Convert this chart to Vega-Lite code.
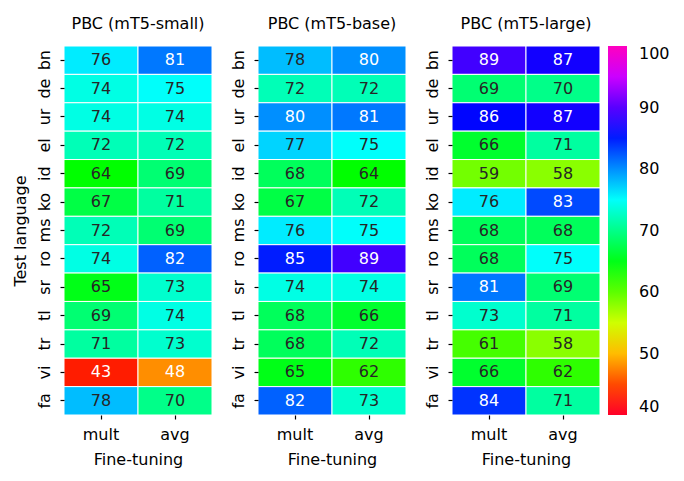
{
  "$schema": "https://vega.github.io/schema/vega-lite/v6.json",
  "padding": {"left": 11, "top": 15, "right": 5, "bottom": 5},
  "config": {
    "font": "DejaVu Sans",
    "view": {"stroke": null},
    "concat": {"spacing": 16},
    "axis": {"labelFontSize": 16, "titleFontSize": 16, "titleFontWeight": "normal", "labelColor": "black", "titleColor": "black", "tickColor": "black", "domain": false, "grid": false, "tickSize": 4, "tickWidth": 1.2, "labelFont": "DejaVu Sans", "titleFont": "DejaVu Sans"},
    "title": {"fontSize": 16, "fontWeight": "normal", "offset": 14, "font": "DejaVu Sans", "color": "black"},
    "legend": {"labelFont": "DejaVu Sans", "labelColor": "black"}
  },
  "data": {"values": [
    {"model": "small", "lang": "bn", "ft": "mult", "value": 76}, {"model": "small", "lang": "bn", "ft": "avg", "value": 81},
    {"model": "small", "lang": "de", "ft": "mult", "value": 74}, {"model": "small", "lang": "de", "ft": "avg", "value": 75},
    {"model": "small", "lang": "ur", "ft": "mult", "value": 74}, {"model": "small", "lang": "ur", "ft": "avg", "value": 74},
    {"model": "small", "lang": "el", "ft": "mult", "value": 72}, {"model": "small", "lang": "el", "ft": "avg", "value": 72},
    {"model": "small", "lang": "id", "ft": "mult", "value": 64}, {"model": "small", "lang": "id", "ft": "avg", "value": 69},
    {"model": "small", "lang": "ko", "ft": "mult", "value": 67}, {"model": "small", "lang": "ko", "ft": "avg", "value": 71},
    {"model": "small", "lang": "ms", "ft": "mult", "value": 72}, {"model": "small", "lang": "ms", "ft": "avg", "value": 69},
    {"model": "small", "lang": "ro", "ft": "mult", "value": 74}, {"model": "small", "lang": "ro", "ft": "avg", "value": 82},
    {"model": "small", "lang": "sr", "ft": "mult", "value": 65}, {"model": "small", "lang": "sr", "ft": "avg", "value": 73},
    {"model": "small", "lang": "tl", "ft": "mult", "value": 69}, {"model": "small", "lang": "tl", "ft": "avg", "value": 74},
    {"model": "small", "lang": "tr", "ft": "mult", "value": 71}, {"model": "small", "lang": "tr", "ft": "avg", "value": 73},
    {"model": "small", "lang": "vi", "ft": "mult", "value": 43}, {"model": "small", "lang": "vi", "ft": "avg", "value": 48},
    {"model": "small", "lang": "fa", "ft": "mult", "value": 78}, {"model": "small", "lang": "fa", "ft": "avg", "value": 70},
    {"model": "base", "lang": "bn", "ft": "mult", "value": 78}, {"model": "base", "lang": "bn", "ft": "avg", "value": 80},
    {"model": "base", "lang": "de", "ft": "mult", "value": 72}, {"model": "base", "lang": "de", "ft": "avg", "value": 72},
    {"model": "base", "lang": "ur", "ft": "mult", "value": 80}, {"model": "base", "lang": "ur", "ft": "avg", "value": 81},
    {"model": "base", "lang": "el", "ft": "mult", "value": 77}, {"model": "base", "lang": "el", "ft": "avg", "value": 75},
    {"model": "base", "lang": "id", "ft": "mult", "value": 68}, {"model": "base", "lang": "id", "ft": "avg", "value": 64},
    {"model": "base", "lang": "ko", "ft": "mult", "value": 67}, {"model": "base", "lang": "ko", "ft": "avg", "value": 72},
    {"model": "base", "lang": "ms", "ft": "mult", "value": 76}, {"model": "base", "lang": "ms", "ft": "avg", "value": 75},
    {"model": "base", "lang": "ro", "ft": "mult", "value": 85}, {"model": "base", "lang": "ro", "ft": "avg", "value": 89},
    {"model": "base", "lang": "sr", "ft": "mult", "value": 74}, {"model": "base", "lang": "sr", "ft": "avg", "value": 74},
    {"model": "base", "lang": "tl", "ft": "mult", "value": 68}, {"model": "base", "lang": "tl", "ft": "avg", "value": 66},
    {"model": "base", "lang": "tr", "ft": "mult", "value": 68}, {"model": "base", "lang": "tr", "ft": "avg", "value": 72},
    {"model": "base", "lang": "vi", "ft": "mult", "value": 65}, {"model": "base", "lang": "vi", "ft": "avg", "value": 62},
    {"model": "base", "lang": "fa", "ft": "mult", "value": 82}, {"model": "base", "lang": "fa", "ft": "avg", "value": 73},
    {"model": "large", "lang": "bn", "ft": "mult", "value": 89}, {"model": "large", "lang": "bn", "ft": "avg", "value": 87},
    {"model": "large", "lang": "de", "ft": "mult", "value": 69}, {"model": "large", "lang": "de", "ft": "avg", "value": 70},
    {"model": "large", "lang": "ur", "ft": "mult", "value": 86}, {"model": "large", "lang": "ur", "ft": "avg", "value": 87},
    {"model": "large", "lang": "el", "ft": "mult", "value": 66}, {"model": "large", "lang": "el", "ft": "avg", "value": 71},
    {"model": "large", "lang": "id", "ft": "mult", "value": 59}, {"model": "large", "lang": "id", "ft": "avg", "value": 58},
    {"model": "large", "lang": "ko", "ft": "mult", "value": 76}, {"model": "large", "lang": "ko", "ft": "avg", "value": 83},
    {"model": "large", "lang": "ms", "ft": "mult", "value": 68}, {"model": "large", "lang": "ms", "ft": "avg", "value": 68},
    {"model": "large", "lang": "ro", "ft": "mult", "value": 68}, {"model": "large", "lang": "ro", "ft": "avg", "value": 75},
    {"model": "large", "lang": "sr", "ft": "mult", "value": 81}, {"model": "large", "lang": "sr", "ft": "avg", "value": 69},
    {"model": "large", "lang": "tl", "ft": "mult", "value": 73}, {"model": "large", "lang": "tl", "ft": "avg", "value": 71},
    {"model": "large", "lang": "tr", "ft": "mult", "value": 61}, {"model": "large", "lang": "tr", "ft": "avg", "value": 58},
    {"model": "large", "lang": "vi", "ft": "mult", "value": 66}, {"model": "large", "lang": "vi", "ft": "avg", "value": 62},
    {"model": "large", "lang": "fa", "ft": "mult", "value": 84}, {"model": "large", "lang": "fa", "ft": "avg", "value": 71}
  ]},
  "resolve": {"scale": {"color": "independent"}},
  "hconcat": [
    {
      "title": "PBC (mT5-small)",
      "width": 148, "height": 369,
      "transform": [{"filter": "datum.model === 'small'"}],
      "encoding": {
        "x": {"field": "ft", "type": "nominal", "sort": ["mult", "avg"], "title": "Fine-tuning", "axis": {"labelAngle": 0, "labelPadding": 7, "titlePadding": 9}},
        "y": {"field": "lang", "type": "nominal", "sort": ["bn","de","ur","el","id","ko","ms","ro","sr","tl","tr","vi","fa"], "title": "Test language", "axis": {"labelAngle": -90, "labelAlign": "center", "labelBaseline": "alphabetic", "labelPadding": 11, "titlePadding": 8}}
      },
      "layer": [
        {"mark": {"type": "rect", "stroke": "white", "strokeWidth": 1},
         "encoding": {"color": {"field": "value", "type": "quantitative",
           "scale": {"domain": [40, 41.8, 52.9, 64, 75.16, 86.2, 97.24, 100], "range": ["#ff0029", "#ff0000", "#ffff00", "#00ff00", "#00ffff", "#0000ff", "#ff00ff", "#ff00bf"], "interpolate": "rgb"},
           "legend": null}}},
        {"mark": {"type": "text", "fontSize": 16, "font": "DejaVu Sans"},
         "encoding": {"text": {"field": "value", "type": "quantitative"},
           "color": {"condition": {"test": "datum.value >= 80 || datum.value < 50", "value": "white"}, "value": "#262626"}}}
      ]
    },
    {
      "title": "PBC (mT5-base)",
      "width": 148, "height": 369,
      "transform": [{"filter": "datum.model === 'base'"}],
      "encoding": {
        "x": {"field": "ft", "type": "nominal", "sort": ["mult", "avg"], "title": "Fine-tuning", "axis": {"labelAngle": 0, "labelPadding": 7, "titlePadding": 9}},
        "y": {"field": "lang", "type": "nominal", "sort": ["bn","de","ur","el","id","ko","ms","ro","sr","tl","tr","vi","fa"], "title": null, "axis": {"labelAngle": -90, "labelAlign": "center", "labelBaseline": "alphabetic", "labelPadding": 11}}
      },
      "layer": [
        {"mark": {"type": "rect", "stroke": "white", "strokeWidth": 1},
         "encoding": {"color": {"field": "value", "type": "quantitative",
           "scale": {"domain": [40, 41.8, 52.9, 64, 75.16, 86.2, 97.24, 100], "range": ["#ff0029", "#ff0000", "#ffff00", "#00ff00", "#00ffff", "#0000ff", "#ff00ff", "#ff00bf"], "interpolate": "rgb"},
           "legend": null}}},
        {"mark": {"type": "text", "fontSize": 16, "font": "DejaVu Sans"},
         "encoding": {"text": {"field": "value", "type": "quantitative"},
           "color": {"condition": {"test": "datum.value >= 80 || datum.value < 50", "value": "white"}, "value": "#262626"}}}
      ]
    },
    {
      "title": "PBC (mT5-large)",
      "width": 148, "height": 369,
      "transform": [{"filter": "datum.model === 'large'"}],
      "encoding": {
        "x": {"field": "ft", "type": "nominal", "sort": ["mult", "avg"], "title": "Fine-tuning", "axis": {"labelAngle": 0, "labelPadding": 7, "titlePadding": 9}},
        "y": {"field": "lang", "type": "nominal", "sort": ["bn","de","ur","el","id","ko","ms","ro","sr","tl","tr","vi","fa"], "title": null, "axis": {"labelAngle": -90, "labelAlign": "center", "labelBaseline": "alphabetic", "labelPadding": 11}}
      },
      "layer": [
        {"mark": {"type": "rect", "stroke": "white", "strokeWidth": 1},
         "encoding": {"color": {"field": "value", "type": "quantitative",
           "scale": {"domain": [40, 41.8, 52.9, 64, 75.16, 86.2, 97.24, 100], "range": ["#ff0029", "#ff0000", "#ffff00", "#00ff00", "#00ffff", "#0000ff", "#ff00ff", "#ff00bf"], "interpolate": "rgb"},
           "legend": {"title": null, "direction": "vertical", "gradientLength": 369, "gradientThickness": 19, "values": [40, 50, 60, 70, 80, 90, 100], "labelFontSize": 16, "labelOffset": 12, "labelBaseline": "middle", "labelAlign": "left", "offset": 8, "gradientStrokeWidth": 0}}}},
        {"mark": {"type": "text", "fontSize": 16, "font": "DejaVu Sans"},
         "encoding": {"text": {"field": "value", "type": "quantitative"},
           "color": {"condition": {"test": "datum.value >= 80 || datum.value < 50", "value": "white"}, "value": "#262626"}}}
      ]
    }
  ]
}
